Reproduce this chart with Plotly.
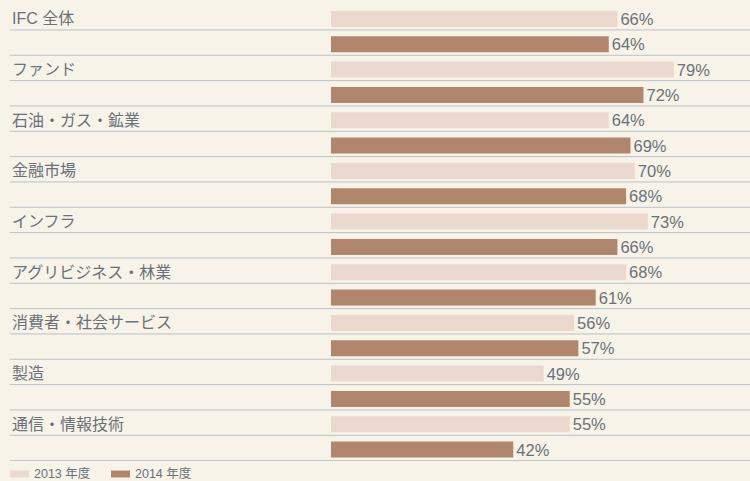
import plotly.graph_objects as go

categories = ["IFC 全体", "ファンド", "石油・ガス・鉱業", "金融市場", "インフラ",
              "アグリビジネス・林業", "消費者・社会サービス", "製造", "通信・情報技術"]
series_names = ["2013 年度", "2014 年度"]
values_2013 = [66, 79, 64, 70, 73, 68, 56, 49, 55]
values_2014 = [64, 72, 69, 68, 66, 61, 57, 55, 42]

colors = ["#ebd9cf", "#b0876d"]
bg = "#f7f3e9"
text_color = "#6b7178"
line_color = "#b9c1c8"
font_family = "Helvetica Neue, Arial, Noto Sans CJK JP, sans-serif"

W, H = 750, 481
x0_px = 331
px_per_pct = 4.34
plot_w = W - x0_px
xmax = plot_w / px_per_pct
top_px, bot_px = 5, 461
plot_h = bot_px - top_px

n = len(categories)
fig = go.Figure()
for s, (name, vals) in enumerate(zip(series_names, [values_2013, values_2014])):
    ys = [2 * i + s for i in range(n)]
    fig.add_trace(go.Bar(
        x=vals, y=ys, orientation="h", name=name,
        marker=dict(color=colors[s], line=dict(width=0)),
        width=0.63,
        text=[f"{v}%" for v in vals], textposition="outside",
        constraintext="none",
        textfont=dict(size=16.5, color=text_color, family=font_family),
        cliponaxis=False, showlegend=False,
    ))

shapes = []
for r in range(2 * n):
    shapes.append(dict(type="line", xref="paper", yref="y",
                       x0=(10 - x0_px) / plot_w, x1=1, y0=r + 0.435, y1=r + 0.435,
                       line=dict(color=line_color, width=1)))

annotations = []
for i, c in enumerate(categories):
    annotations.append(dict(text=c, xref="paper", yref="y", x=(10 - x0_px) / plot_w,
                            y=2 * i, xanchor="left", yanchor="middle", showarrow=False,
                            font=dict(size=16, color=text_color, family=font_family)))

# legend drawn manually
leg_y_px = 474
leg_items_x = [10, 111]
for k, name in enumerate(series_names):
    lx = leg_items_x[k]
    shapes.append(dict(type="rect", xref="paper", yref="paper",
                       x0=(lx - x0_px) / plot_w, x1=(lx + 19 - x0_px) / plot_w,
                       y0=-(leg_y_px + 3.5 - bot_px) / plot_h, y1=-(leg_y_px - 3.5 - bot_px) / plot_h,
                       fillcolor=colors[k], line=dict(width=0)))
    annotations.append(dict(text=name, xref="paper", yref="paper",
                            x=(lx + 22 - x0_px) / plot_w, y=-(leg_y_px - bot_px) / plot_h,
                            xanchor="left", yanchor="middle", showarrow=False,
                            font=dict(size=12.5, color=text_color, family=font_family)))

fig.update_layout(
    width=W, height=H,
    margin=dict(l=x0_px, r=0, t=top_px, b=H - bot_px),
    paper_bgcolor=bg, plot_bgcolor=bg,
    barmode="overlay",
    xaxis=dict(range=[0, xmax], visible=False, fixedrange=True),
    yaxis=dict(range=[2 * n - 0.55, -0.55], visible=False, fixedrange=True),
    shapes=shapes, annotations=annotations,
    showlegend=False,
)
fig.write_html("out.html",
               post_script="document.body.style.margin='0';document.body.style.background='%s';" % bg,
               config={"displayModeBar": False})
